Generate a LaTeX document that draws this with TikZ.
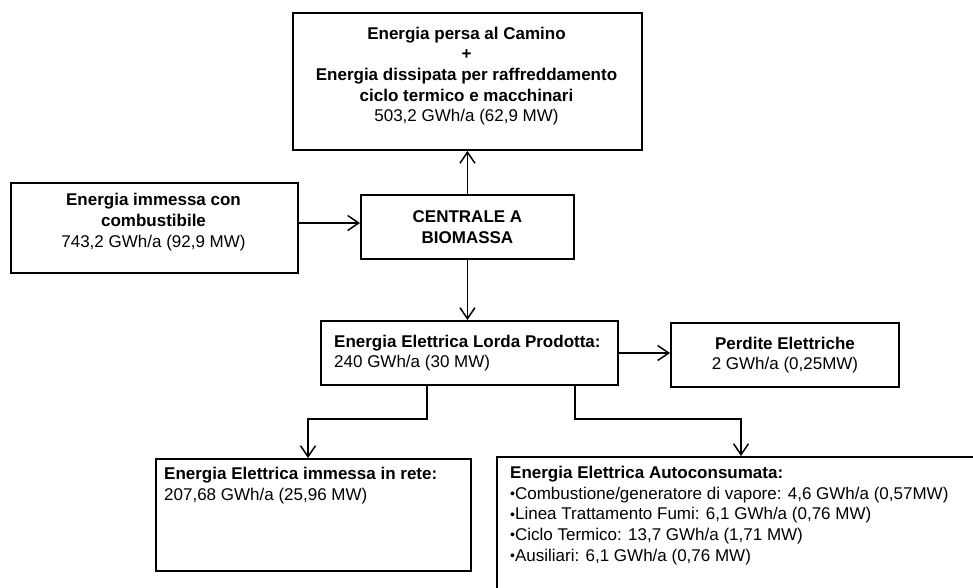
\documentclass[tikz,border=0pt]{standalone}
\usepackage{fontspec}
\setmainfont{Liberation Sans}
\usetikzlibrary{arrows.meta}
\newcommand{\blt}{\raisebox{0.1ex}{\fontsize{14}{14}\selectfont •}}
\begin{document}
\begin{tikzpicture}[x=1pt,y=-1pt,
  box/.style={draw, line width=1.9pt, inner sep=0pt, anchor=north west},
  txt/.style={font=\fontsize{17}{20.7}\selectfont, inner sep=0pt},
  arr/.style={line width=1.5pt, -{Straight Barb[length=11pt,width=15pt,line width=1.5pt]}}]
\useasboundingbox (0,0) rectangle (973,587);
\fill[white] (0,0) rectangle (973,587);

% boxes
\node[box, minimum width=349pt, minimum height=137pt] (top) at (292,12) {};
\node[box, minimum width=287pt, minimum height=90pt] (inp) at (10,182) {};
\node[box, minimum width=213pt, minimum height=64pt] (cen) at (360,194) {};
\node[box, minimum width=297pt, minimum height=64pt] (lor) at (320,320) {};
\node[box, minimum width=228pt, minimum height=64pt] (per) at (670,322) {};
\node[box, minimum width=315pt, minimum height=112pt] (ret) at (155,458) {};
\node[box, minimum width=520pt, minimum height=160pt] (aut) at (496,456) {};

% texts
\node[txt, align=center] (toptxt) at (466.5,76) {\textbf{Energia persa al Camino}\\ \textbf{+}\\ \textbf{Energia dissipata per raffreddamento}\\ \textbf{ciclo termico e macchinari}\\ 503,2 GWh/a (62,9 MW)};
\node[txt, align=center] (inptxt) at (153.5,222) {\textbf{Energia immessa con}\\ \textbf{combustibile}\\ 743,2 GWh/a (92,9 MW)};
\node[txt, align=center] (centxt) at (cen.center) {\textbf{CENTRALE A}\\ \textbf{BIOMASSA}};
\node[txt, align=left, anchor=west] (lortxt) at (334,353) {\textbf{Energia Elettrica Lorda Prodotta:}\\ 240 GWh/a (30 MW)};
\node[txt, align=center] (pertxt) at (per.center) {\textbf{Perdite Elettriche}\\ 2 GWh/a (0,25MW)};
\node[txt, align=left, anchor=north west] (rettxt) at (164,467) {\textbf{Energia Elettrica immessa in rete:}\\ 207,68 GWh/a (25,96 MW)};
\node[txt, align=left, anchor=north west] (auttxt) at (510,466) {\textbf{Energia Elettrica Autoconsumata:}\\ \blt Combustione/generatore di vapore: 4,6 GWh/a (0,57MW)\\ \blt Linea Trattamento Fumi: 6,1 GWh/a (0,76 MW)\\ \blt Ciclo Termico: 13,7 GWh/a (1,71 MW)\\ \blt Ausiliari: 6,1 GWh/a (0,76 MW)};

% connectors
\draw[arr] (inp.east |- 0,223) -- (cen.west |- 0,223);
\draw[arr] (cen.north) -- (top.south);
\draw[arr] (cen.south) -- (lor.north -| cen.south);
\draw[arr] (lor.east |- 0,353) -- (per.west |- 0,353);
\coordinate (b1) at (427,419);
\coordinate (b2) at (575,419);
\draw[arr] (lor.south -| b1) -- (b1) -- (308,419) -- (ret.north -| 308,0);
\draw[arr] (lor.south -| b2) -- (b2) -- (741,419) -- (aut.north -| 741,0);
\end{tikzpicture}
\end{document}
